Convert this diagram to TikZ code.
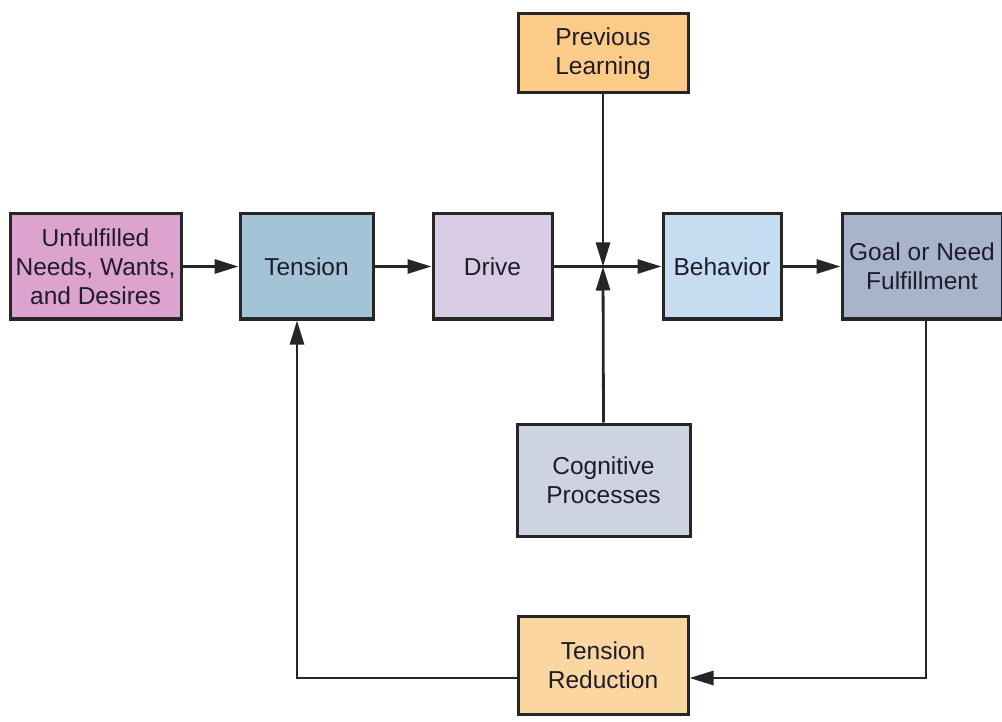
\documentclass[tikz,border=0pt]{standalone}
\usepackage{fontspec}
\setmainfont{Liberation Sans}
\usetikzlibrary{arrows.meta}
\definecolor{cU}{HTML}{DDA3CF}
\definecolor{cT}{HTML}{A3C4D6}
\definecolor{cD}{HTML}{D7CCE4}
\definecolor{cB}{HTML}{C6DCF0}
\definecolor{cG}{HTML}{A8B4CC}
\definecolor{cP}{HTML}{FCCB87}
\definecolor{cC}{HTML}{CDD3E1}
\definecolor{cR}{HTML}{FAD6A1}
\definecolor{txt}{HTML}{1F1C2B}
\definecolor{ln}{HTML}{262626}
\tikzset{
  box/.style={draw=ln, line width=3pt, inner sep=0pt, align=center, text=txt,
    font=\fontsize{24.5}{29}\selectfont},
  conn/.style={draw=ln, line width=2.8pt, -{Triangle[length=24pt,width=14pt]}},
}
\begin{document}
\begin{tikzpicture}[x=1pt,y=-1pt]
\useasboundingbox (0,0) rectangle (1002,722);
\node[box, fill=cU, minimum width=171pt, minimum height=105pt] (U) at (95.5,266.5) {Unfulfilled\\Needs, Wants,\\and Desires};
\node[box, fill=cT, minimum width=133pt, minimum height=105pt] (T) at (306.5,266.5) {Tension};
\node[box, fill=cD, minimum width=119pt, minimum height=105pt] (D) at (492.5,266.5) {Drive};
\node[box, fill=cB, minimum width=118pt, minimum height=105pt] (B) at (722,266.5) {Behavior};
\node[box, fill=cG, minimum width=160pt, minimum height=105pt] (G) at (922,266.5) {Goal or Need\\Fulfillment};
\node[box, fill=cP, minimum width=170pt, minimum height=79pt] (P) at (603,53.5) {Previous\\Learning};
\node[box, fill=cC, minimum width=173pt, minimum height=112pt] (C) at (603.5,480) {Cognitive\\Processes};
\node[box, fill=cR, minimum width=170pt, minimum height=98pt] (R) at (603,665) {Tension\\Reduction};
\coordinate (J) at (P.south |- D.east);
\coordinate (GR) at (926,678);
\coordinate (TR) at (297,678);
\draw[conn] (U.east) -- (T.west);
\draw[conn] (T.east) -- (D.west);
\draw[conn] (D.east) -- (B.west);
\draw[conn] (B.east) -- (G.west);
\draw[conn] (P.south) -- (J);
\draw[conn] (C.north) -- (J);
\draw[conn] (G.south -| GR) -- (GR) -- (R.east |- GR);
\draw[conn] (R.west |- TR) -- (TR) -- (T.south -| TR);
\end{tikzpicture}
\end{document}
